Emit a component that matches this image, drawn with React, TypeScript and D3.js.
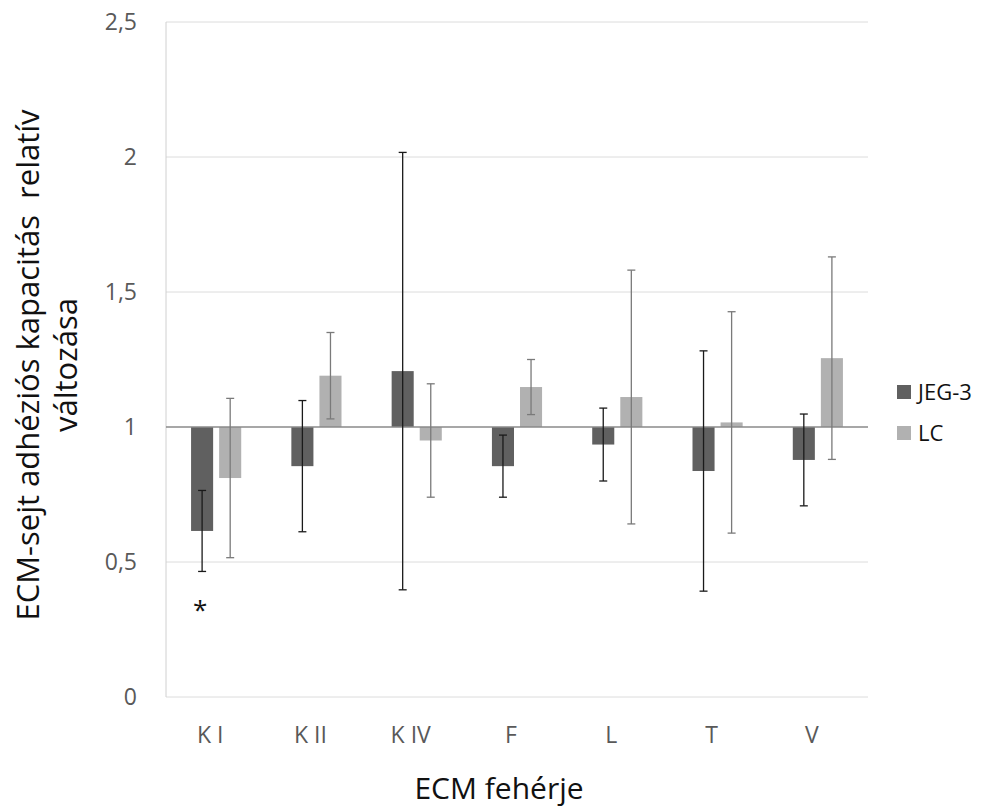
import React from 'react';
import * as d3 from 'd3';

const categories = ['K I', 'K II', 'K IV', 'F', 'L', 'T', 'V'];
const series = ['JEG-3', 'LC'];
const jegValues = [0.615, 0.855, 1.207, 0.855, 0.935, 0.837, 0.878];
const jegErrors = [0.15, 0.243, 0.81, 0.115, 0.135, 0.445, 0.17];
const lcValues = [0.811, 1.19, 0.95, 1.148, 1.111, 1.017, 1.255];
const lcErrors = [0.295, 0.16, 0.21, 0.102, 0.47, 0.41, 0.375];
const yTicks = [0, 0.5, 1, 1.5, 2, 2.5];

const colors: Record<string, string> = { 'JEG-3': '#606060', LC: '#b1b1b1' };
const errColors: Record<string, string> = { 'JEG-3': '#1a1a1a', LC: '#7a7a7a' };
const font = '"Open Sans", "Noto Sans", sans-serif';

const App: React.FC = () => {
  const width = 989;
  const height = 807;
  const left = 166;
  const right = 868;
  const top = 22;
  const bottom = 697;

  const x0 = d3.scaleBand().domain(categories).range([left, right]);
  const bw = x0.bandwidth();
  const x1 = d3.scaleBand().domain(series).range([bw * 0.25, bw * 0.75]).paddingInner(6 / 28);
  const y = d3.scaleLinear().domain([0, 2.5]).range([bottom, top]);
  const fmt = (v: number) => String(v).replace('.', ',');

  const rows = categories.map((c, i) => ({
    cat: c,
    items: [
      { s: 'JEG-3', v: jegValues[i], e: jegErrors[i] },
      { s: 'LC', v: lcValues[i], e: lcErrors[i] },
    ],
  }));

  return (
    <svg width={width} height={height} style={{ position: 'absolute', left: 0, top: 0, background: '#fff' }}>
      {/* grid */}
      {yTicks.map(t => (
        <line key={t} x1={left} x2={right} y1={y(t)} y2={y(t)} stroke={t === 1 ? 'none' : '#dcdcdc'} strokeWidth={1} />
      ))}
      <line x1={left} x2={left} y1={top} y2={bottom} stroke="#d0d0d0" strokeWidth={1} />
      {yTicks.map(t => (
        <text key={t} x={137} y={y(t)} dy="0.35em" textAnchor="end" fontFamily={font} fontSize={23} fill="#595959">
          {fmt(t)}
        </text>
      ))}

      {/* bars */}
      {rows.map(r => (
        <g key={r.cat} transform={`translate(${x0(r.cat)},0)`}>
          {r.items.map(d => (
            <rect
              key={d.s}
              x={x1(d.s)}
              width={x1.bandwidth()}
              y={Math.min(y(d.v), y(1))}
              height={Math.abs(y(d.v) - y(1))}
              fill={colors[d.s]}
            />
          ))}
        </g>
      ))}

      {/* baseline at 1 */}
      <line x1={left} x2={right} y1={y(1)} y2={y(1)} stroke="#8a8a8a" strokeWidth={1.3} />

      {/* error bars */}
      {rows.map(r => (
        <g key={r.cat} transform={`translate(${x0(r.cat)},0)`}>
          {r.items.map(d => {
            const cx = (x1(d.s) ?? 0) + x1.bandwidth() / 2;
            return (
              <g key={d.s} stroke={errColors[d.s]} strokeWidth={1.3}>
                <line x1={cx} x2={cx} y1={y(d.v + d.e)} y2={y(d.v - d.e)} />
                <line x1={cx - 4} x2={cx + 4} y1={y(d.v + d.e)} y2={y(d.v + d.e)} />
                <line x1={cx - 4} x2={cx + 4} y1={y(d.v - d.e)} y2={y(d.v - d.e)} />
              </g>
            );
          })}
        </g>
      ))}

      {/* significance */}
      <text
        x={(x0('K I') ?? 0) + (x1('JEG-3') ?? 0) + x1.bandwidth() / 2 - 2}
        y={y(0.29)}
        textAnchor="middle"
        fontFamily={font}
        fontSize={26}
        fill="#111"
      >
        *
      </text>

      {/* category labels */}
      {categories.map(c => (
        <text key={c} x={(x0(c) ?? 0) + bw / 2 - 6} y={743} textAnchor="middle" fontFamily={font} fontSize={23} fill="#595959">
          {c}
        </text>
      ))}

      {/* axis titles */}
      <text x={499} y={799} textAnchor="middle" fontFamily={font} fontSize={30} fill="#111">
        ECM fehérje
      </text>
      <g transform="translate(0,365) rotate(-90)" fontFamily={font} fontSize={31} fill="#111" textAnchor="middle">
        <text x={0} y={39} xmlSpace="preserve">ECM-sejt adhéziós kapacitás  relatív</text>
        <text x={0} y={77}>változása</text>
      </g>

      {/* legend */}
      {series.map((s, i) => (
        <g key={s} transform={`translate(897,${392 + i * 41})`}>
          <rect x={0} y={-7} width={14} height={14} fill={colors[s]} />
          <text x={21} dy="0.35em" fontFamily={font} fontSize={22} fill="#111">
            {s}
          </text>
        </g>
      ))}
    </svg>
  );
};

export default App;
